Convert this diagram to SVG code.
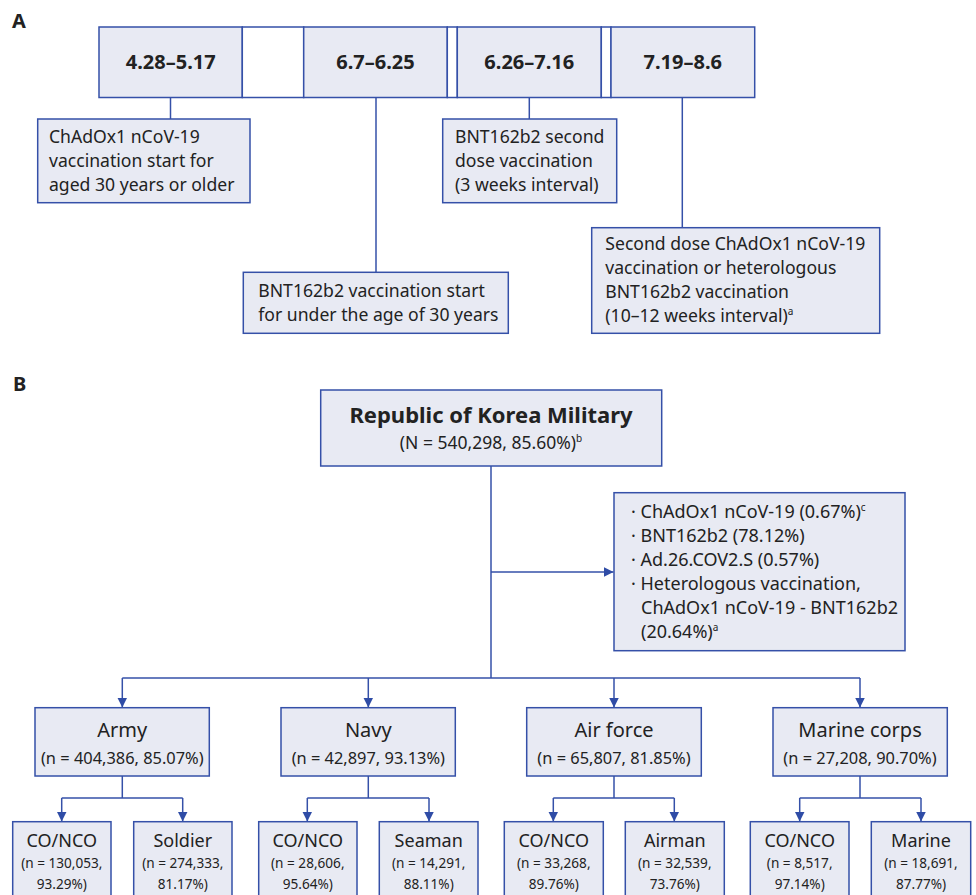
<svg xmlns="http://www.w3.org/2000/svg" width="976" height="895" viewBox="0 0 976 895">
<defs>
<marker id="arr" viewBox="0 0 10 10" refX="10" refY="5" markerWidth="10" markerHeight="10" markerUnits="userSpaceOnUse" orient="auto">
<path d="M0,0 L10,5 L0,10 z" fill="#2f4ca6"/>
</marker>
<style>
.box{fill:#e8eaf3;stroke:#3550a8;stroke-width:1.5}
.wbox{fill:#ffffff;stroke:#3550a8;stroke-width:1.5}
.ln{fill:none;stroke:#3550a8;stroke-width:1.5}
.ar{fill:none;stroke:#3550a8;stroke-width:1.5;marker-end:url(#arr)}
text{font-family:"Noto Sans","Liberation Sans",sans-serif;fill:#222}
.lbl{font-weight:bold;font-size:20px}
.date{font-weight:bold;font-size:20px;text-anchor:middle}
.t{font-size:17.6px}
.li{font-size:18px}
.title{font-weight:bold;font-size:22px;text-anchor:middle}
.sub{font-size:17.5px;text-anchor:middle}
.br{font-size:20px;text-anchor:middle}
.bs{font-size:16.4px;text-anchor:middle}
.st{font-size:18px;text-anchor:middle}
.ss{font-size:13.6px;text-anchor:middle}
.sup{font-size:10px}
</style>
</defs>
<text class="lbl" x="12" y="28">A</text>
<text class="lbl" x="13" y="391">B</text>

<g id="connectors">
<line class="ln" x1="170.5" y1="97.5" x2="170.5" y2="119"/>
<line class="ln" x1="376" y1="97.5" x2="376" y2="272"/>
<line class="ln" x1="529.3" y1="97.5" x2="529.3" y2="119"/>
<line class="ln" x1="682.3" y1="97.5" x2="682.3" y2="228"/>
<line class="ln" x1="491" y1="466" x2="491" y2="678"/>
<line class="ar" x1="491" y1="572" x2="613.5" y2="572"/>
<polyline class="ln" points="122.3,678 860,678"/>
<line class="ar" x1="122.3" y1="678" x2="122.3" y2="707.5"/>
<line class="ar" x1="368.3" y1="678" x2="368.3" y2="707.5"/>
<line class="ar" x1="614" y1="678" x2="614" y2="707.5"/>
<line class="ar" x1="860" y1="678" x2="860" y2="707.5"/>
<line class="ln" x1="122.3" y1="776" x2="122.3" y2="798"/>
<line class="ln" x1="61.7" y1="798" x2="182.7" y2="798"/>
<line class="ar" x1="61.7" y1="798" x2="61.7" y2="821.5"/>
<line class="ar" x1="182.7" y1="798" x2="182.7" y2="821.5"/>
<line class="ln" x1="368.3" y1="776" x2="368.3" y2="798"/>
<line class="ln" x1="307.3" y1="798" x2="429" y2="798"/>
<line class="ar" x1="307.3" y1="798" x2="307.3" y2="821.5"/>
<line class="ar" x1="429" y1="798" x2="429" y2="821.5"/>
<line class="ln" x1="614" y1="776" x2="614" y2="798"/>
<line class="ln" x1="553.3" y1="798" x2="674.3" y2="798"/>
<line class="ar" x1="553.3" y1="798" x2="553.3" y2="821.5"/>
<line class="ar" x1="674.3" y1="798" x2="674.3" y2="821.5"/>
<line class="ln" x1="860" y1="776" x2="860" y2="798"/>
<line class="ln" x1="799.7" y1="798" x2="921" y2="798"/>
<line class="ar" x1="799.7" y1="798" x2="799.7" y2="821.5"/>
<line class="ar" x1="921" y1="798" x2="921" y2="821.5"/>
</g>

<g id="timeline">
<rect class="box" x="99" y="27" width="143.3" height="70.5"/>
<rect class="wbox" x="242.3" y="27" width="61.4" height="70.5"/>
<rect class="box" x="303.7" y="27" width="143.6" height="70.5"/>
<rect class="wbox" x="447.3" y="27" width="10" height="70.5"/>
<rect class="box" x="457.3" y="27" width="144" height="70.5"/>
<rect class="wbox" x="601.3" y="27" width="9.7" height="70.5"/>
<rect class="box" x="611" y="27" width="143.7" height="70.5"/>
<text class="date" x="170.7" y="69">4.28–5.17</text>
<text class="date" x="375.5" y="69">6.7–6.25</text>
<text class="date" x="529.3" y="69">6.26–7.16</text>
<text class="date" x="682.8" y="69">7.19–8.6</text>
</g>

<g id="a1">
<rect class="box" x="37.7" y="119" width="212.3" height="83.7"/>
<text class="t" x="49" y="143">ChAdOx1 nCoV-19</text>
<text class="t" x="49" y="167">vaccination start for</text>
<text class="t" x="49" y="190.5">aged 30 years or older</text>
</g>
<g id="a2">
<rect class="box" x="243.3" y="272.3" width="265" height="61"/>
<text class="t" x="258.3" y="297">BNT162b2 vaccination start</text>
<text class="t" x="258.3" y="320.5">for under the age of 30 years</text>
</g>
<g id="a3">
<rect class="box" x="442.7" y="119" width="174" height="83.7"/>
<text class="t" x="455" y="143">BNT162b2 second</text>
<text class="t" x="455" y="167">dose vaccination</text>
<text class="t" x="455" y="190.5">(3 weeks interval)</text>
</g>
<g id="a4">
<rect class="box" x="591.7" y="227.7" width="288" height="105.6"/>
<text class="t" x="605.3" y="250">Second dose ChAdOx1 nCoV-19</text>
<text class="t" x="605.3" y="274">vaccination or heterologous</text>
<text class="t" x="605.3" y="298">BNT162b2 vaccination</text>
<text class="t" x="605.3" y="321.5">(10–12 weeks interval)<tspan class="sup" dy="-7">a</tspan></text>
</g>

<g id="military">
<rect class="box" x="320.7" y="390" width="341" height="76"/>
<text class="title" x="491" y="423">Republic of Korea Military</text>
<text class="sub" x="491" y="449">(N = 540,298, 85.60%)<tspan class="sup" dy="-7">b</tspan></text>
</g>
<g id="vaccines">
<rect class="box" x="614" y="492.7" width="291" height="158"/>
<text class="li" x="631" y="518">· ChAdOx1 nCoV-19 (0.67%)<tspan class="sup" dy="-7">c</tspan></text>
<text class="li" x="631" y="542">· BNT162b2 (78.12%)</text>
<text class="li" x="631" y="566">· Ad.26.COV2.S (0.57%)</text>
<text class="li" x="631" y="590">· Heterologous vaccination,</text>
<text class="li" x="641" y="614">ChAdOx1 nCoV-19 - BNT162b2</text>
<text class="li" x="641" y="638">(20.64%)<tspan class="sup" dy="-7">a</tspan></text>
</g>

<g id="army">
<rect class="box" x="35" y="707.7" width="174.3" height="68.3"/>
<text class="br" x="122.3" y="736.5">Army</text>
<text class="bs" x="122.3" y="764">(n = 404,386, 85.07%)</text>
</g>
<g id="navy">
<rect class="box" x="281" y="707.7" width="174.3" height="68.3"/>
<text class="br" x="368.3" y="736.5">Navy</text>
<text class="bs" x="368.3" y="764">(n = 42,897, 93.13%)</text>
</g>
<g id="airforce">
<rect class="box" x="526.7" y="707.7" width="174.6" height="68.3"/>
<text class="br" x="614" y="736.5">Air force</text>
<text class="bs" x="614" y="764">(n = 65,807, 81.85%)</text>
</g>
<g id="marinecorps">
<rect class="box" x="773" y="707.7" width="174.3" height="68.3"/>
<text class="br" x="860" y="736.5">Marine corps</text>
<text class="bs" x="860" y="764">(n = 27,208, 90.70%)</text>
</g>

<g id="army-co">
<rect class="box" x="12.7" y="821.7" width="98.3" height="80"/>
<text class="st" x="61.8" y="846.5">CO/NCO</text>
<text class="ss" x="61.8" y="868">(n = 130,053,</text>
<text class="ss" x="61.8" y="889">93.29%)</text>
</g>
<g id="army-soldier">
<rect class="box" x="133.7" y="821.7" width="98.3" height="80"/>
<text class="st" x="182.8" y="846.5">Soldier</text>
<text class="ss" x="182.8" y="868">(n = 274,333,</text>
<text class="ss" x="182.8" y="889">81.17%)</text>
</g>
<g id="navy-co">
<rect class="box" x="258.7" y="821.7" width="98.3" height="80"/>
<text class="st" x="307.8" y="846.5">CO/NCO</text>
<text class="ss" x="307.8" y="868">(n = 28,606,</text>
<text class="ss" x="307.8" y="889">95.64%)</text>
</g>
<g id="navy-seaman">
<rect class="box" x="379.3" y="821.7" width="98.7" height="80"/>
<text class="st" x="428.7" y="846.5">Seaman</text>
<text class="ss" x="428.7" y="868">(n = 14,291,</text>
<text class="ss" x="428.7" y="889">88.11%)</text>
</g>
<g id="air-co">
<rect class="box" x="504.3" y="821.7" width="99" height="80"/>
<text class="st" x="553.8" y="846.5">CO/NCO</text>
<text class="ss" x="553.8" y="868">(n = 33,268,</text>
<text class="ss" x="553.8" y="889">89.76%)</text>
</g>
<g id="air-airman">
<rect class="box" x="625.3" y="821.7" width="99" height="80"/>
<text class="st" x="674.8" y="846.5">Airman</text>
<text class="ss" x="674.8" y="868">(n = 32,539,</text>
<text class="ss" x="674.8" y="889">73.76%)</text>
</g>
<g id="marine-co">
<rect class="box" x="750.3" y="821.7" width="98.7" height="80"/>
<text class="st" x="799.7" y="846.5">CO/NCO</text>
<text class="ss" x="799.7" y="868">(n = 8,517,</text>
<text class="ss" x="799.7" y="889">97.14%)</text>
</g>
<g id="marine-marine">
<rect class="box" x="871.3" y="821.7" width="99.4" height="80"/>
<text class="st" x="921" y="846.5">Marine</text>
<text class="ss" x="921" y="868">(n = 18,691,</text>
<text class="ss" x="921" y="889">87.77%)</text>
</g>
</svg>
